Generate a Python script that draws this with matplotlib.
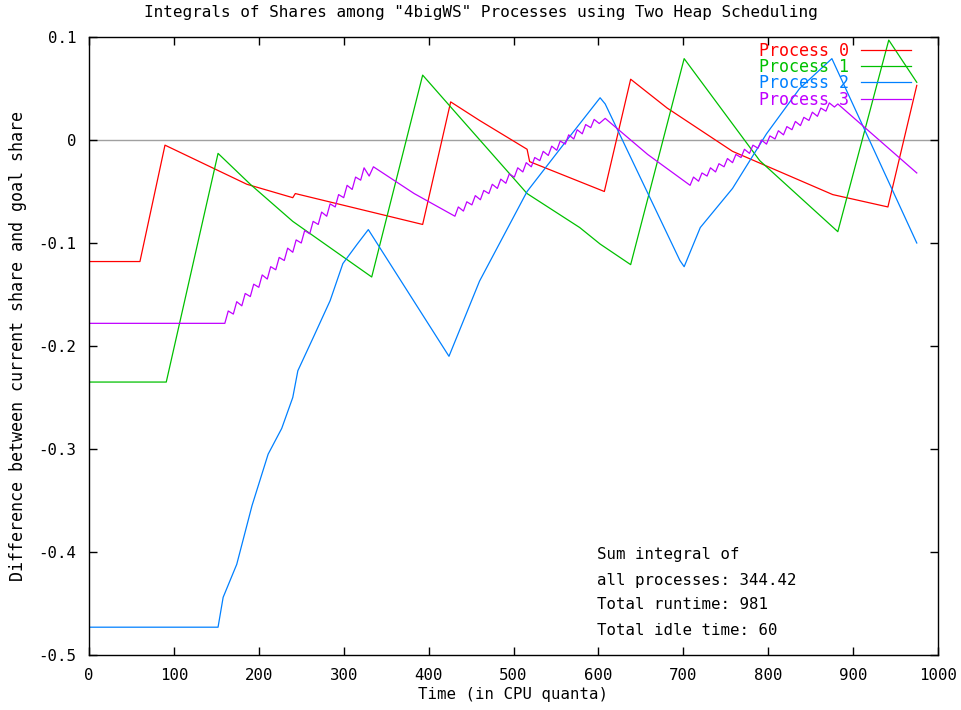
import matplotlib
matplotlib.use("Agg")
import matplotlib.pyplot as plt

# ---- data ----
p0_x = [0, 60, 89.5, 186, 240, 243, 393, 426, 460, 516, 519, 607, 638, 681, 758, 876, 941, 975]
p0_y = [-0.118, -0.118, -0.005, -0.043, -0.056, -0.052, -0.082, 0.037, 0.019, -0.009, -0.021,
        -0.050, 0.059, 0.031, -0.011, -0.053, -0.065, 0.053]

p1_x = [0, 91, 152, 190, 240, 333, 393, 425, 516, 578, 602, 638, 701, 790, 882, 942, 975]
p1_y = [-0.235, -0.235, -0.013, -0.043, -0.079, -0.133, 0.063, 0.033, -0.052, -0.085, -0.101,
        -0.121, 0.079, -0.020, -0.089, 0.097, 0.056]

p2_x = [0, 152, 158, 174, 192, 211, 227, 240, 246, 264, 284, 299, 316, 329,
        424, 460, 516, 563, 602, 608, 696, 701, 720, 758, 798, 837, 875, 975]
p2_y = [-0.473, -0.473, -0.444, -0.412, -0.355, -0.305, -0.280, -0.250, -0.224, -0.192, -0.156,
        -0.120, -0.101, -0.087, -0.210, -0.137, -0.050, 0.000, 0.041, 0.035, -0.117, -0.123,
        -0.085, -0.047, 0.006, 0.050, 0.079, -0.100]

p3_x = [0, 160, 164, 170, 174, 180, 184, 190, 194, 200, 204, 210, 214, 220, 224, 230, 234,
        240, 244, 250, 254, 260, 264, 270, 274, 280, 284, 290, 294, 300, 304, 310, 314,
        320, 324, 330, 335,
        383,
        431, 435, 441, 445, 451, 455, 461, 465, 471, 475, 481, 485, 491, 495, 501, 505,
        511, 515, 521, 525, 531, 535, 541, 545, 551, 555, 561, 565, 571, 575, 581, 585,
        591, 595, 601, 608,
        658,
        708, 712, 718, 722, 728, 732, 738, 742, 748, 752, 758, 762, 768, 772, 778, 782,
        788, 792, 798, 802, 808, 812, 818, 822, 828, 832, 838, 842, 848, 852, 858, 862,
        868, 872, 878, 882,
        975]
p3_y = [-0.178, -0.178, -0.166, -0.169, -0.157, -0.161, -0.149, -0.152, -0.140, -0.143, -0.131,
        -0.135, -0.123, -0.126, -0.114, -0.117, -0.105, -0.109, -0.097, -0.100, -0.088,
        -0.091, -0.079, -0.082, -0.070, -0.074, -0.062, -0.065, -0.053, -0.056, -0.044,
        -0.048, -0.036, -0.039, -0.027, -0.035, -0.026,
        -0.052,
        -0.074, -0.065, -0.069, -0.060, -0.063, -0.054, -0.058, -0.049, -0.052, -0.043,
        -0.047, -0.038, -0.042, -0.033, -0.036, -0.027, -0.031, -0.022, -0.026, -0.017,
        -0.020, -0.011, -0.015, -0.006, -0.010, -0.001, -0.004, 0.005, 0.001, 0.010,
        0.006, 0.015, 0.012, 0.020, 0.016, 0.021,
        -0.014,
        -0.044, -0.036, -0.040, -0.032, -0.035, -0.027, -0.031, -0.023, -0.026, -0.018,
        -0.022, -0.014, -0.017, -0.009, -0.013, -0.005, -0.008, 0.000, -0.004, 0.004,
        0.001, 0.009, 0.005, 0.013, 0.010, 0.018, 0.014, 0.022, 0.019, 0.027, 0.023, 0.031,
        0.028, 0.036, 0.032, 0.035,
        -0.032]

labels = ["Process 0", "Process 1", "Process 2", "Process 3"]
colors = ["#ff0000", "#00c000", "#0080ff", "#c000ff"]

note_lines = ["Sum integral of", "all processes: 344.42", "Total runtime: 981", "Total idle time: 60"]

x_ticks = [0, 100, 200, 300, 400, 500, 600, 700, 800, 900, 1000]
y_ticks = [-0.5, -0.4, -0.3, -0.2, -0.1, 0, 0.1]
y_ticklabels = ["-0.5", "-0.4", "-0.3", "-0.2", "-0.1", "0", "0.1"]

# ---- drawing ----
plt.rcParams['font.family'] = ['DejaVu Sans Mono']
plt.rcParams['font.size'] = 11.3

fig = plt.figure(figsize=(9.61, 7.10), dpi=100)
ax = fig.add_axes([89 / 961, 1 - 655 / 710, 849 / 961, 618 / 710])

ax.axhline(0, color="#a0a0a0", lw=1.0, zorder=1)

series = [(p0_x, p0_y), (p1_x, p1_y), (p2_x, p2_y), (p3_x, p3_y)]
for (xs, ys), lab, col in zip(series, labels, colors):
    ax.plot(xs, ys, color=col, lw=0.9, label=lab, zorder=2)

ax.set_xlim(0, 1000)
ax.set_ylim(-0.5, 0.1)
ax.set_xticks(x_ticks)
ax.set_yticks(y_ticks)
ax.set_yticklabels(y_ticklabels)
ax.tick_params(direction="in", length=6, width=1, top=True, right=True, pad=9, labelsize=11.3)
for s in ax.spines.values():
    s.set_linewidth(1.0)

ax.set_xlabel("Time (in CPU quanta)", labelpad=3)
ax.set_ylabel("Difference between current share and goal share", labelpad=8, fontsize=12)
fig.text(0.5, 1 - 12 / 710, 'Integrals of Shares among "4bigWS" Processes using Two Heap Scheduling',
         ha="center", va="center", fontsize=11.5)

leg = ax.legend(loc="upper right", bbox_to_anchor=(0.972, 0.998), markerfirst=False, frameon=False,
                handlelength=3.0, handletextpad=0.7, labelspacing=-0.1, borderaxespad=0,
                borderpad=0.2, labelcolor="linecolor", fontsize=12)

note_y = [0.163, 0.121, 0.081, 0.039]
for line, yy in zip(note_lines, note_y):
    ax.text(0.598, yy, line, transform=ax.transAxes, ha="left", va="center")

fig.savefig("out.png", dpi=100)
